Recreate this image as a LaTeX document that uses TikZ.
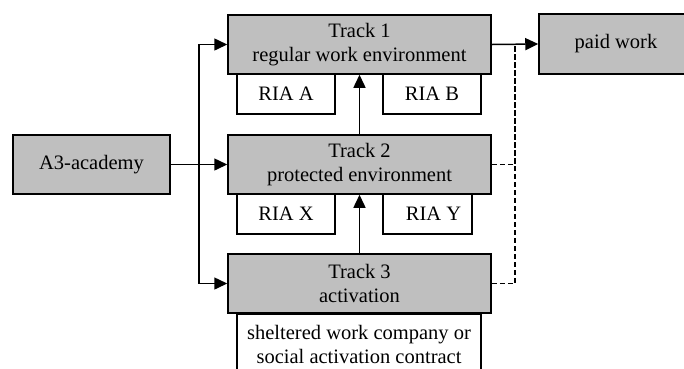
\documentclass[tikz,border=0pt]{standalone}
\usepackage{fontspec}
\setmainfont{Liberation Serif}
\usetikzlibrary{arrows.meta}
\begin{document}
\begin{tikzpicture}[x=1pt,y=-1pt,
  txt/.style={inner sep=0pt,align=center,font=\fontsize{20.5}{24}\selectfont},
  box/.style={txt,draw,line width=1.5pt,fill=gray!50},
  sub/.style={txt,draw,line width=1.5pt,fill=white},
  arr/.style={line width=1.5pt,-{Triangle[length=13pt,width=12pt]}},
  dsh/.style={line width=1.5pt,dash pattern=on 5pt off 3pt}]
\useasboundingbox (0,0) rectangle (684,368);
\clip (0,0) rectangle (684,368);
\node[box,minimum width=263pt,minimum height=59pt] (t1) at (359.5,44.5) {Track 1\\regular work environment};
\node[box,minimum width=263pt,minimum height=59pt] (t2) at (359.5,164.5) {Track 2\\protected environment};
\node[box,minimum width=263pt,minimum height=59pt] (t3) at (359.5,283.5) {Track 3\\activation};
\node[box,minimum width=157pt,minimum height=59pt] (a3) at (91.5,164.5) {A3-academy};
\node[box,minimum width=170pt,minimum height=60pt] (pw) at (624,44) {\hspace*{-16pt}paid work};
\node[sub,minimum width=98pt,minimum height=40pt] (ra) at (286,94) {RIA A};
\node[sub,minimum width=98pt,minimum height=40pt] (rb) at (432,94) {RIA B};
\node[sub,minimum width=98pt,minimum height=40pt] (rx) at (286,214) {RIA X};
\node[sub,minimum width=89pt,minimum height=40pt] (ry) at (427.5,214) {\hspace*{12pt}RIA Y};
\node[sub,minimum width=244pt,minimum height=80pt,anchor=north] (sw) at (359,313) {};
\node[txt] (swt) at (359,344) {sheltered work company or\\social activation contract};
\coordinate (j) at (199,164.5);
\coordinate (d) at (515,44.5);
\draw[arr] (a3.east) -- (t2.west);
\draw[arr] (j) |- (t1.west);
\draw[arr] (j) |- (t3.west);
\draw[arr] (t2.north) -- (t1.south);
\draw[arr] (t3.north) -- (t2.south);
\draw[arr] (t1.east) -- (pw.west);
\draw[dsh] (t2.east) -| (d);
\draw[dsh] (t3.east) -| (d);
\end{tikzpicture}
\end{document}
